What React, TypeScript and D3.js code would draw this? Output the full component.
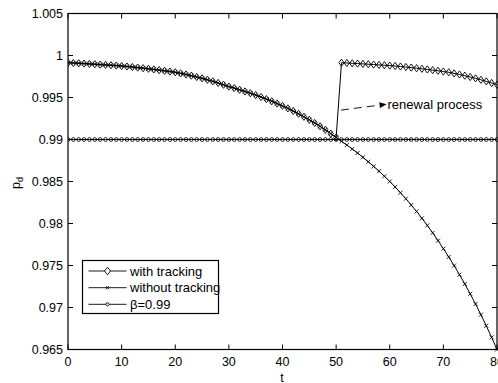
import React from 'react'
import * as d3 from 'd3'

// time axis (t = 0..80, one sample per unit)
const tValues = d3.range(0, 81)

// p_d without tracking, t = 0..80
const withoutTracking = [
  0.99914, 0.99911, 0.99907, 0.99904, 0.99900, 0.99896, 0.99892, 0.99888, 0.99884, 0.99880,
  0.99875, 0.99869, 0.99863, 0.99856, 0.99849, 0.99842, 0.99834, 0.99826, 0.99818, 0.99809,
  0.99800, 0.99787, 0.99774, 0.99760, 0.99744, 0.99728, 0.99711, 0.99692, 0.99673, 0.99652,
  0.99630, 0.99612, 0.99592, 0.99572, 0.99551, 0.99529, 0.99506, 0.99481, 0.99455, 0.99428,
  0.99400, 0.99370, 0.99339, 0.99306, 0.99271, 0.99235, 0.99197, 0.99157, 0.99115, 0.99070,
  0.99024, 0.98978, 0.98934, 0.98887, 0.98839, 0.98788, 0.98735, 0.98680, 0.98623, 0.98563,
  0.98500, 0.98435, 0.98366, 0.98295, 0.98220, 0.98143, 0.98062, 0.97977, 0.97889, 0.97796,
  0.97700, 0.97601, 0.97499, 0.97391, 0.97280, 0.97163, 0.97041, 0.96914, 0.96782, 0.96644,
  0.96500,
]

// p_d with tracking (renewed at t = 51), t = 0..80
const withTracking = [
  0.99914, 0.99911, 0.99907, 0.99904, 0.99900, 0.99896, 0.99892, 0.99888, 0.99884, 0.99880,
  0.99875, 0.99869, 0.99863, 0.99856, 0.99849, 0.99842, 0.99834, 0.99826, 0.99818, 0.99809,
  0.99800, 0.99787, 0.99774, 0.99760, 0.99744, 0.99728, 0.99711, 0.99692, 0.99673, 0.99652,
  0.99630, 0.99612, 0.99592, 0.99572, 0.99551, 0.99529, 0.99506, 0.99481, 0.99455, 0.99428,
  0.99400, 0.99370, 0.99339, 0.99306, 0.99271, 0.99235, 0.99197, 0.99157, 0.99115, 0.99070,
  0.99024, 0.99914, 0.99911, 0.99907, 0.99904, 0.99900, 0.99896, 0.99892, 0.99888, 0.99884,
  0.99880, 0.99875, 0.99869, 0.99863, 0.99856, 0.99849, 0.99842, 0.99834, 0.99826, 0.99818,
  0.99809, 0.99800, 0.99787, 0.99774, 0.99760, 0.99744, 0.99728, 0.99711, 0.99692, 0.99673,
  0.99652,
]

// threshold beta
const betaLevel = [0.99]

const xTicks = [0, 10, 20, 30, 40, 50, 60, 70, 80]
const yTicks = [0.965, 0.97, 0.975, 0.98, 0.985, 0.99, 0.995, 1, 1.005]
const yTickLabels = ['0.965', '0.97', '0.975', '0.98', '0.985', '0.99', '0.995', '1', '1.005']

const legendLabels = ['with tracking', 'without tracking', '\u03b2=0.99']

// annotation: arrow from the jump line towards the label (data coords)
const arrowFrom = [50.9, 0.9935]
const arrowTo = [59.4, 0.9942]

const W = 498
const H = 383
const margin = { top: 13.5, right: 1, bottom: 33.5, left: 68 }
const FONT = 'Liberation Sans, Arial, Helvetica, sans-serif'

const diamond = (x: number, y: number, w = 2.6, h = 3.6) =>
  `M${x},${y - h}L${x + w},${y}L${x},${y + h}L${x - w},${y}Z`
const cross = (x: number, y: number, s = 2) =>
  `M${x - s},${y - s}L${x + s},${y + s}M${x - s},${y + s}L${x + s},${y - s}`

export default function App() {
  const x = d3.scaleLinear().domain([0, 80]).range([margin.left, W - margin.right])
  const y = d3.scaleLinear().domain([0.965, 1.005]).range([H - margin.bottom, margin.top])
  const x0 = x(0), x1 = x(80), y0 = y(0.965), y1 = y(1.005)

  const line = d3.line<number>().x((_, i) => x(tValues[i])).y(d => y(d))
  const betaSeries = tValues.map(() => betaLevel[0])

  const ax = x(arrowFrom[0]), ay = y(arrowFrom[1])
  const bx = x(arrowTo[0]), by = y(arrowTo[1])
  const ang = Math.atan2(by - ay, bx - ax)
  const headLen = 7, headW = 3
  const hx = bx - headLen * Math.cos(ang), hy = by - headLen * Math.sin(ang)
  const head = `M${bx},${by}L${hx - headW * Math.sin(ang)},${hy + headW * Math.cos(ang)}L${hx + headW * Math.sin(ang)},${hy - headW * Math.cos(ang)}Z`

  const lg = { x: 82.5, y: 260.5, w: 136, h: 53 }
  const rowY = [271, 287.7, 304.3]

  return (
    <div style={{ position: 'absolute', left: 0, top: 0 }}>
      <svg width={W} height={H} style={{ display: 'block', background: '#fff' }} fontFamily={FONT}>
        <defs>
          <clipPath id="plot">
            <rect x={x0} y={y1 - 4} width={x1 - x0 + 4} height={y0 - y1 + 8} />
          </clipPath>
        </defs>

        {/* box and ticks */}
        <rect x={x0} y={y1} width={x1 - x0} height={y0 - y1} fill="none" stroke="#000" strokeWidth={1.2} />
        {xTicks.map(t => (
          <g key={'xt' + t}>
            <line x1={x(t)} x2={x(t)} y1={y0} y2={y0 - 5} stroke="#000" />
            <line x1={x(t)} x2={x(t)} y1={y1} y2={y1 + 5} stroke="#000" />
            <text x={x(t)} y={y0 + 16.5} fontSize={12.5} textAnchor="middle">{t}</text>
          </g>
        ))}
        {yTicks.map((v, i) => (
          <g key={'yt' + v}>
            <line x1={x0} x2={x0 + 5} y1={y(v)} y2={y(v)} stroke="#000" />
            <line x1={x1} x2={x1 - 5} y1={y(v)} y2={y(v)} stroke="#000" />
            <text x={x0 - 5} y={y(v) + 4.5} fontSize={12.5} textAnchor="end">{yTickLabels[i]}</text>
          </g>
        ))}
        <text x={(x0 + x1) / 2 - 0.5} y={382} fontSize={12.5} textAnchor="middle">t</text>
        <text transform={`translate(20,189) rotate(-90)`} fontSize={12.5}>
          p<tspan fontSize={9} dy={3}>d</tspan>
        </text>

        <g clipPath="url(#plot)">
          {/* beta line */}
          <path d={line(betaSeries) || ''} fill="none" stroke="#000" strokeWidth={1} />
          {betaSeries.map((d, i) => (
            <circle key={'b' + i} cx={x(tValues[i])} cy={y(d)} r={1.9} fill="none" stroke="#000" strokeWidth={0.85} />
          ))}

          {/* without tracking */}
          <path d={line(withoutTracking) || ''} fill="none" stroke="#000" strokeWidth={1} />
          {withoutTracking.map((d, i) => (
            <path key={'w' + i} d={cross(x(tValues[i]), y(d))} stroke="#000" strokeWidth={0.85} />
          ))}

          {/* with tracking */}
          <path d={line(withTracking) || ''} fill="none" stroke="#000" strokeWidth={1} />
          {withTracking.map((d, i) => (
            <path key={'t' + i} d={diamond(x(tValues[i]), y(d))} fill="none" stroke="#000" strokeWidth={0.9} />
          ))}
        </g>

        {/* renewal process annotation */}
        <line x1={ax} y1={ay} x2={hx} y2={hy} stroke="#000" strokeWidth={0.9} strokeDasharray="8,5" />
        <path d={head} fill="#000" />
        <text x={bx + 1} y={by + 4.5} fontSize={13}>renewal process</text>

        {/* legend */}
        <rect x={lg.x} y={lg.y} width={lg.w} height={lg.h} fill="#fff" stroke="#000" strokeWidth={1.2} />
        {legendLabels.map((label, i) => {
          const cy = rowY[i]
          const lx1 = 88.5, lx2 = 126.5, mx = (lx1 + lx2) / 2
          return (
            <g key={label}>
              <line x1={lx1} x2={lx2} y1={cy} y2={cy} stroke="#000" strokeWidth={0.9} />
              {i === 0 && <path d={diamond(mx, cy, 3, 3.8)} fill="#fff" stroke="#000" strokeWidth={0.9} />}
              {i === 1 && <path d={cross(mx, cy, 1.6)} stroke="#000" strokeWidth={0.9} />}
              {i === 2 && <circle cx={mx} cy={cy} r={1.6} fill="#fff" stroke="#000" strokeWidth={0.9} />}
              <text x={130} y={cy + 4.5} fontSize={13}>{label}</text>
            </g>
          )
        })}
      </svg>
    </div>
  )
}
